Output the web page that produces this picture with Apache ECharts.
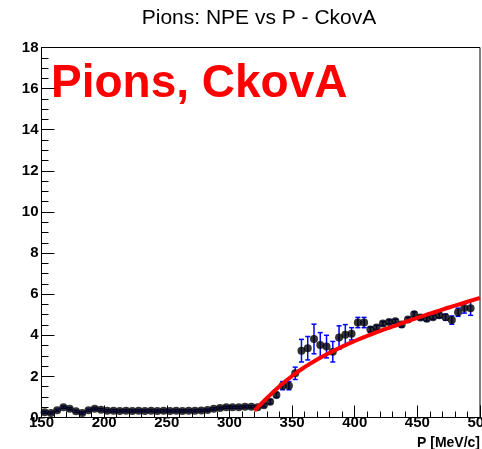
<!DOCTYPE html>
<html>
<head>
<meta charset="utf-8">
<script src="https://cdn.jsdelivr.net/npm/echarts@6/dist/echarts.min.js"></script>
<style>
html,body{margin:0;padding:0;background:#fff;}
#c{width:482px;height:449px;}
</style>
</head>
<body>
<div id="c"></div>
<script>
// Bin centres P [MeV/c]
const pBins = [152.5,157.5,162.5,167.5,172.5,177.5,182.5,187.5,192.5,197.5,
  202.5,207.5,212.5,217.5,222.5,227.5,232.5,237.5,242.5,247.5,
  252.5,257.5,262.5,267.5,272.5,277.5,282.5,287.5,292.5,297.5,
  302.5,307.5,312.5,317.5,322.5,327.5,332.5,337.5,342.5,347.5,
  352.5,357.5,362.5,367.5,372.5,377.5,382.5,387.5,392.5,397.5,
  402.5,407.5,412.5,417.5,422.5,427.5,432.5,437.5,442.5,447.5,
  452.5,457.5,462.5,467.5,472.5,477.5,482.5,487.5,492.5];
// NPE per bin
const npe = [0.25,0.22,0.35,0.5,0.42,0.3,0.22,0.35,0.42,0.38,
  0.33,0.33,0.32,0.33,0.32,0.33,0.32,0.33,0.32,0.33,
  0.32,0.33,0.32,0.33,0.33,0.34,0.36,0.42,0.46,0.5,
  0.5,0.5,0.52,0.52,0.5,0.6,0.77,1.1,1.55,1.55,
  2.15,3.25,3.37,3.82,3.53,3.45,3.2,3.89,4.02,4.07,
  4.62,4.62,4.28,4.38,4.57,4.65,4.68,4.52,4.77,5.02,
  4.86,4.8,4.88,4.97,4.88,4.74,5.12,5.33,5.32];
// NPE errors
const npeErr = [0.05,0.05,0.05,0.05,0.05,0.05,0.05,0.05,0.05,0.05,
  0.05,0.05,0.05,0.05,0.05,0.05,0.05,0.05,0.05,0.05,
  0.05,0.05,0.05,0.05,0.05,0.05,0.05,0.05,0.05,0.05,
  0.05,0.05,0.05,0.05,0.05,0.08,0.1,0.12,0.2,0.2,
  0.3,0.55,0.57,0.72,0.6,0.55,0.5,0.57,0.5,0.3,
  0.25,0.25,0.12,0.1,0.1,0.1,0.1,0.12,0.1,0.12,
  0.1,0.1,0.1,0.12,0.15,0.2,0.2,0.25,0.35];
// Fit curve
const fitP = [320,330,340,350,360,370,380,390,400,410,420,430,440,450,460,470,480,490,500];
const fitNpe = [0.33,0.95,1.52,2.02,2.45,2.82,3.15,3.45,3.72,3.97,4.2,4.42,4.64,4.85,5.05,5.25,5.44,5.63,5.82];

const xTicks = {min:150, max:500, interval:50};
const yTicks = {min:0, max:18, interval:2};

const pts = pBins.map((p,i)=>[p,npe[i]]);
const errs = pBins.map((p,i)=>[p,npe[i]-npeErr[i],npe[i]+npeErr[i]]);
const fit = fitP.map((p,i)=>[p,fitNpe[i]]);

const chart = echarts.init(document.getElementById('c'));
const FONT = '"Liberation Sans", Arial, sans-serif';
chart.setOption({
  animation:false,
  backgroundColor:'#fff',
  grid:{left:41.5,right:2,top:47.5,bottom:31.5,outerBoundsMode:'none',containLabel:false,show:true,borderColor:'#000',borderWidth:1,backgroundColor:'transparent'},
  xAxis:{type:'value',min:xTicks.min,max:xTicks.max,interval:xTicks.interval,
    axisLine:{show:true,lineStyle:{color:'#000',width:1}},
    axisTick:{show:true,inside:true,length:12,lineStyle:{color:'#000'}},
    minorTick:{show:true,splitNumber:5,length:6,lineStyle:{color:'#000'}},
    splitLine:{show:false},
    axisLabel:{color:'#000',fontFamily:FONT,fontWeight:'bold',fontSize:15,margin:-2,showMinLabel:true,showMaxLabel:true}},
  yAxis:{type:'value',min:yTicks.min,max:yTicks.max,interval:yTicks.interval,
    axisLine:{show:true,lineStyle:{color:'#000',width:1}},
    axisTick:{show:true,inside:true,length:13,lineStyle:{color:'#000'}},
    minorTick:{show:true,splitNumber:4,length:7,lineStyle:{color:'#000'}},
    splitLine:{show:false},
    axisLabel:{color:'#000',fontFamily:FONT,fontWeight:'bold',fontSize:15,margin:3,showMinLabel:true,showMaxLabel:true}},
  graphic:[
    {type:'text',x:259,y:18,style:{text:'Pions: NPE vs P - CkovA',font:'21px '+FONT,fill:'#000',align:'center',verticalAlign:'middle'}},
    {type:'text',x:51,y:84,style:{text:'Pions, CkovA',font:'bold 46px '+FONT,fill:'#ff0000',align:'left',verticalAlign:'middle'}},
    {type:'text',x:480,y:443,style:{text:'P [MeV/c]',font:'bold 14px '+FONT,fill:'#000',align:'right',verticalAlign:'middle'}}
  ],
  series:[
    {type:'custom',data:errs,z:3,
     renderItem:function(params,api){
       const x=api.value(0), lo=api.value(1), hi=api.value(2);
       const a=api.coord([x,lo]), b=api.coord([x,hi]);
       const w=2.5;
       const st={stroke:'#0000ff',lineWidth:1.5};
       return {type:'group',children:[
         {type:'line',shape:{x1:a[0],y1:a[1],x2:b[0],y2:b[1]},style:st},
         {type:'line',shape:{x1:a[0]-w,y1:a[1],x2:a[0]+w,y2:a[1]},style:st},
         {type:'line',shape:{x1:b[0]-w,y1:b[1],x2:b[0]+w,y2:b[1]},style:st}
       ]};
     }},
    {type:'scatter',data:pts,symbol:'circle',symbolSize:8,itemStyle:{color:'#000'},z:4},
    {type:'line',data:fit,smooth:true,symbol:'none',lineStyle:{color:'#ff0000',width:4},z:5}
  ]
});
</script>
</body>
</html>
